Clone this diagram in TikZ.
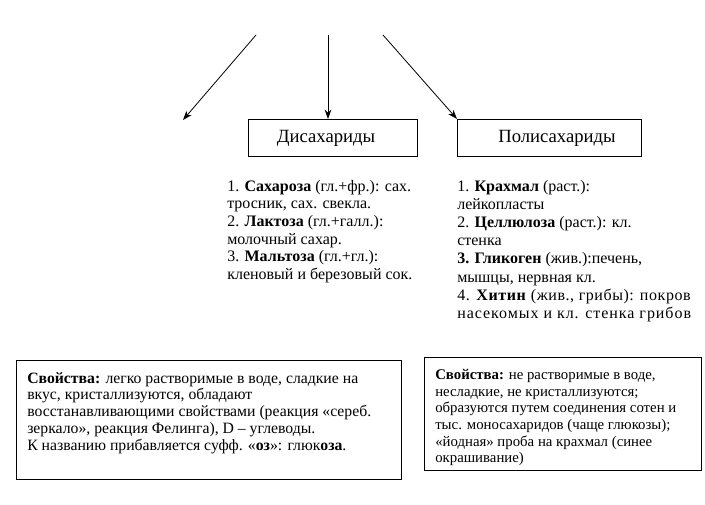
\documentclass[tikz,border=0pt]{standalone}
\usepackage{fontspec}
\setmainfont{Liberation Serif}
\usetikzlibrary{arrows.meta}
\tikzset{
  catbox/.style={draw, line width=0.75pt, minimum width=#1*0.75pt, minimum height=37*0.75pt, inner sep=0pt},
  infobox/.style={draw, line width=0.75pt, inner sep=0pt},
  txt/.style={anchor=north west, inner sep=0pt, align=left},
  arr/.style={line width=0.6pt, -{Stealth[length=7pt,width=5pt]}},
  head/.style={font=\fontsize{14}{16}\selectfont, inner sep=0pt}
}
\begin{document}
\begin{tikzpicture}[x=0.75pt,y=-0.75pt]
\useasboundingbox (0,0) rectangle (705,505);
% category boxes
\node[catbox=169, anchor=north west] (dis) at (248,119) {};
\node[catbox=184, anchor=north west] (poly) at (457,119) {};
\node[head, anchor=base] (dislbl) at (326,143) {Дисахариды};
\node[head, anchor=base] (polylbl) at (557,143) {Полисахариды};
% arrows
\coordinate (s1) at (256,35);
\coordinate (s2) at (328,35);
\coordinate (s3) at (383,35);
\coordinate (mono) at (183,120);
\draw[arr] (s1) -- (mono);
\draw[arr] (s2) -- (dis.north -| s2);
\draw[arr] (s3) -- (poly.north west);
% lists
\node[txt, font=\fontsize{12}{13.2}\selectfont] (dislist) at (227,180) {1. \textbf{Сахароза} (гл.+фр.): сах.\\
тросник, сах. свекла.\\
2. \textbf{Лактоза} (гл.+галл.):\\
молочный сахар.\\
3. \textbf{Мальтоза} (гл.+гл.):\\
кленовый и березовый сок.};
\node[txt, font=\fontsize{12}{13.6}\selectfont] (polylist) at (457,180) {1. \textbf{Крахмал} (раст.):\\
лейкопласты\\
2. \textbf{Целлюлоза} (раст.): кл.\\
стенка\\
\textbf{3. Гликоген} (жив.):печень,\\
мышцы, нервная кл.\\
{\addfontfeature{LetterSpace=3.5}4. \textbf{Хитин} (жив., грибы): покров}\\
{\addfontfeature{LetterSpace=6}насекомых и кл. стенка грибов}};
% property boxes
\node[infobox, anchor=north west, minimum width=385*0.75pt, minimum height=119*0.75pt] (propL) at (16,360) {};
\node[infobox, anchor=north west, minimum width=277*0.75pt, minimum height=113*0.75pt] (propR) at (424,357) {};
\node[txt, font=\fontsize{11.8}{12.6}\selectfont] (propLtxt) at (27,372) {\textbf{Свойства:} легко растворимые в воде, сладкие на\\
вкус, кристаллизуются, обладают\\
восстанавливающими свойствами (реакция «сереб.\\
зеркало», реакция Фелинга), D – углеводы.\\
К названию прибавляется суфф. «\textbf{оз}»: глюк\textbf{оза}.};
\node[txt, font=\fontsize{11.1}{12.5}\selectfont] (propRtxt) at (435,369) {\textbf{Свойства:} не растворимые в воде,\\
несладкие, не кристаллизуются;\\
образуются путем соединения сотен и\\
тыс. моносахаридов (чаще глюкозы);\\
«йодная» проба на крахмал (синее\\
окрашивание)};
\end{tikzpicture}
\end{document}
